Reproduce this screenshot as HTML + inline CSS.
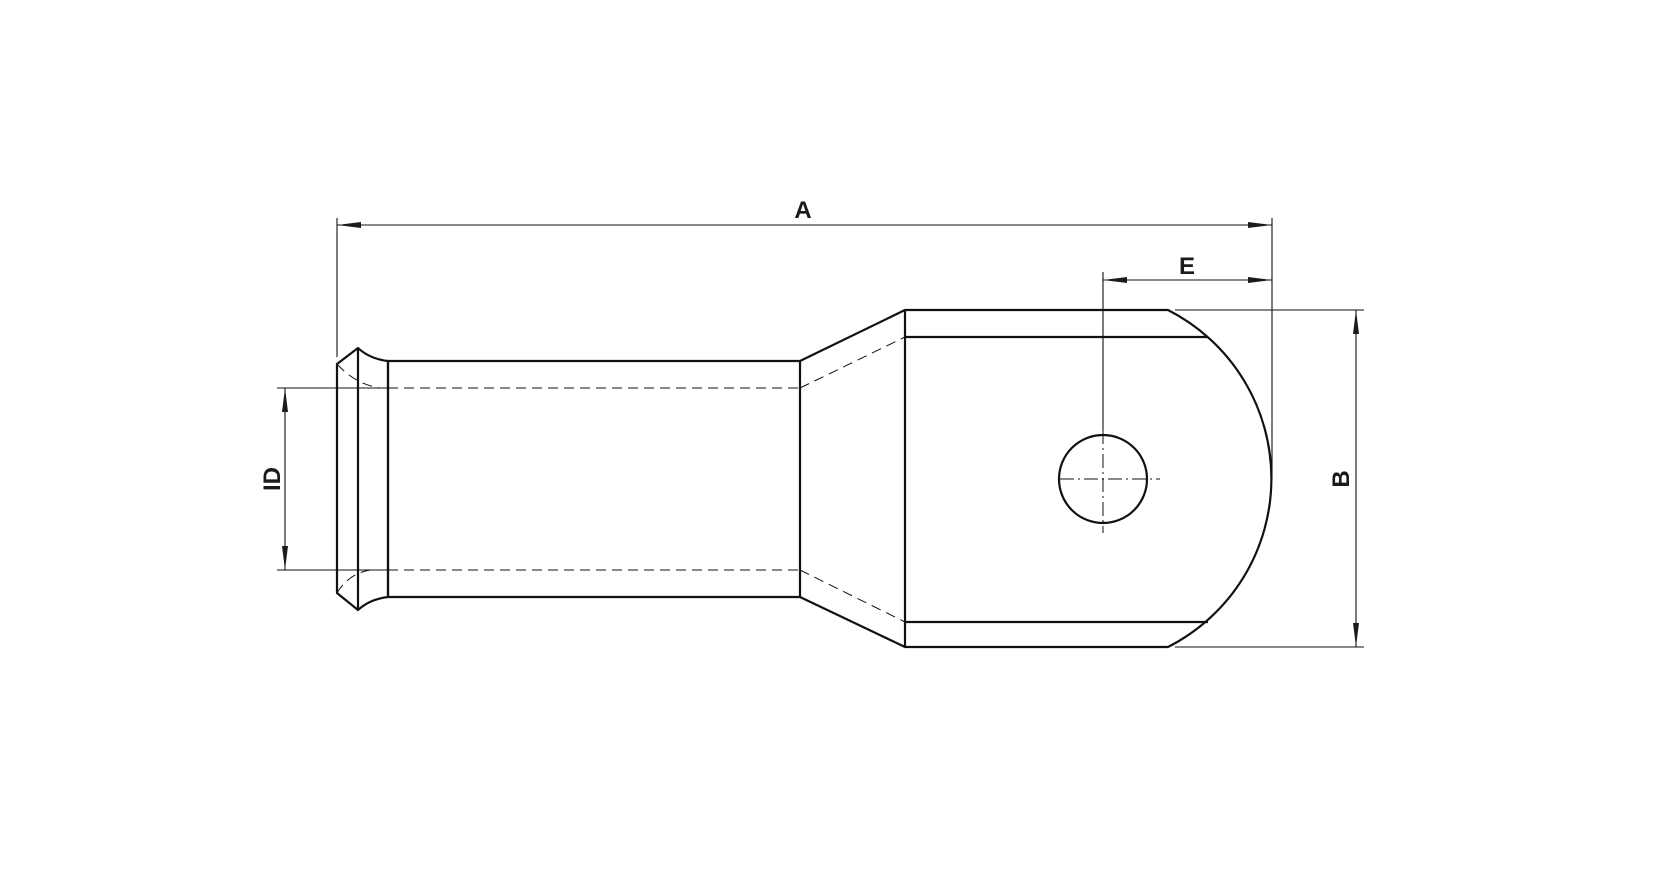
<!DOCTYPE html>
<html><head><style>body{margin:0;background:#fff}svg{display:block}</style></head><body>
<svg width="1677" height="882" viewBox="0 0 1677 882" xmlns="http://www.w3.org/2000/svg">
<defs>
<marker id="ar" viewBox="0 0 24 8" refX="24" refY="4" markerWidth="24" markerHeight="8" markerUnits="userSpaceOnUse" orient="auto-start-reverse"><path d="M0,1 L24,4 L0,7 Z" fill="#1a1a22"/></marker>
</defs>
<g stroke="#111" fill="none">
<g stroke-width="1.1">
<line x1="337" y1="218" x2="337" y2="357"/>
<line x1="1272" y1="218" x2="1272" y2="479"/>
<line x1="337" y1="225" x2="1272" y2="225" marker-start="url(#ar)" marker-end="url(#ar)"/>
<line x1="1103" y1="272" x2="1103" y2="430"/>
<line x1="1103" y1="280" x2="1272" y2="280" marker-start="url(#ar)" marker-end="url(#ar)"/>
<line x1="1175" y1="310" x2="1364" y2="310"/>
<line x1="1175" y1="647" x2="1364" y2="647"/>
<line x1="1356" y1="310" x2="1356" y2="647" marker-start="url(#ar)" marker-end="url(#ar)"/>
<line x1="277" y1="388" x2="388" y2="388"/>
<line x1="277" y1="570" x2="388" y2="570"/>
<line x1="285" y1="388" x2="285" y2="570" marker-start="url(#ar)" marker-end="url(#ar)"/>
</g>
<g stroke-width="2.2" stroke-linejoin="round">
<path d="M337,364 L358,348 Q370,359 388,361 L388,597 Q370,599 358,610 L337,593 Z"/>
<line x1="358" y1="348" x2="358" y2="610"/>
<rect x="388" y="361" width="412" height="236"/>
<path d="M800,361 L905,310 L905,647 L800,597"/>
<path d="M905,310 L1168,310 A189,189 0 0 1 1168,647 L905,647"/>
<line x1="905" y1="337" x2="1208" y2="337"/>
<line x1="905" y1="622" x2="1208" y2="622"/>
<circle cx="1103" cy="479" r="44"/>
</g>
<g stroke-width="1" stroke-dasharray="10,6">
<line x1="388" y1="388" x2="800" y2="388"/>
<line x1="388" y1="570" x2="800" y2="570"/>
<line x1="800" y1="388" x2="905" y2="337"/>
<line x1="800" y1="570" x2="905" y2="622"/>
<path d="M337,364 Q355,384 380,388"/>
<path d="M337,593 Q348,574 370,570"/>
</g>
<g stroke-width="1" stroke-dasharray="14,4,2,4">
<line x1="1060" y1="479" x2="1160" y2="479"/>
<line x1="1103" y1="430" x2="1103" y2="533"/>
</g>
</g>
<g font-family="Liberation Sans, sans-serif" font-weight="bold" font-size="24" fill="#1a1a22" text-anchor="middle">
<text x="803" y="218">A</text>
<text x="1187" y="274">E</text>
<text transform="translate(280,479) rotate(-90)">ID</text>
<text transform="translate(1349,479) rotate(-90)">B</text>
</g>
</svg>
</body></html>
